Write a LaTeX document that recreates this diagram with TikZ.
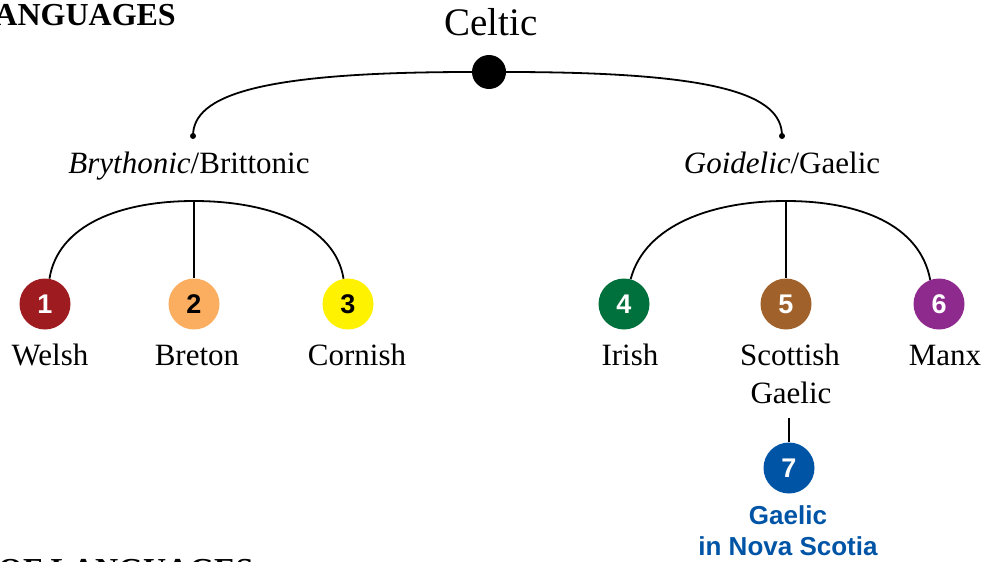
\documentclass[tikz,border=0pt]{standalone}
\usepackage{fontspec}
\setmainfont{Liberation Serif}
\newfontfamily\numfont{Liberation Sans}
\definecolor{cA}{HTML}{9E1B20}
\definecolor{cB}{HTML}{FBAE5F}
\definecolor{cC}{HTML}{FFF200}
\definecolor{cD}{HTML}{00703C}
\definecolor{cE}{HTML}{A0612A}
\definecolor{cF}{HTML}{8E2A8E}
\definecolor{cG}{HTML}{0054A6}
\begin{document}
\begin{tikzpicture}[x=1pt,y=-1pt,
  lbl/.style={font=\fontsize{31}{36}\selectfont, anchor=base, inner sep=0pt},
  head/.style={font=\bfseries\fontsize{32}{36}\selectfont, inner sep=0pt},
  num/.style={circle, minimum size=51pt, inner sep=0pt, text=white,
    font=\numfont\bfseries\fontsize{27}{30}\selectfont},
  blue/.style={font=\numfont\bfseries\fontsize{26}{30}\selectfont, text=cG, anchor=base, inner sep=0pt},
  conn/.style={line width=1.8pt},
  bigdot/.style={circle, fill=black, minimum size=34pt, inner sep=0pt},
  smalldot/.style={circle, fill=black, minimum size=6pt, inner sep=0pt}]
\useasboundingbox (0,0) rectangle (986,562);
% headings cut by the frame
\node[head, anchor=base east] (toptitle) at (176,25) {ANGUAGES};
\node[head, anchor=base west] (bottitle) at (-2,580) {OF LANGUAGES};
% root
\node[lbl, font=\fontsize{39}{44}\selectfont] (celtic) at (491,35) {Celtic};
\node[bigdot] (root) at (489,72) {};
% branches
\node[smalldot] (bd) at (193,136) {};
\node[smalldot] (gd) at (782,136) {};
\node[lbl] (bry) at (189,173) {\textit{Brythonic}/Brittonic};
\node[lbl] (goi) at (782,173) {\textit{Goidelic}/Gaelic};
\coordinate (bj) at (194,201);
\coordinate (gj) at (786,201);
% languages
\node[num, fill=cA] (n1) at (45,304) {1};
\node[num, fill=cB, text=black] (n2) at (194,304) {2};
\node[num, fill=cC, text=black] (n3) at (348,304) {3};
\node[num, fill=cD] (n4) at (624,304) {4};
\node[num, fill=cE] (n5) at (786,304) {5};
\node[num, fill=cF] (n6) at (939,304) {6};
\node[num, fill=cG] (n7) at (789,468) {7};
\node[lbl] (l1) at (50,365) {Welsh};
\node[lbl] (l2) at (197,365) {Breton};
\node[lbl] (l3) at (357,365) {Cornish};
\node[lbl] (l4) at (630,365) {Irish};
\node[lbl] (l5) at (790,365) {Scottish};
\node[lbl] (l5b) at (791,403) {Gaelic};
\node[lbl] (l6) at (945,365) {Manx};
\node[blue] (l7) at (788,524) {Gaelic};
\node[blue] (l7b) at (788,555) {in Nova Scotia};
\coordinate (sgb) at (789,418);
% connectors
\draw[conn] (root.center) -- (root.west) .. controls (260,72) and (193,95) .. (bd.center);
\draw[conn] (root.center) -- (root.east) .. controls (720,72) and (782,95) .. (gd.center);
\draw[conn] (n1.80) .. controls (58,225) and (120,201) .. (bj)
  .. controls (268,201) and (335,225) .. (n3.100);
\draw[conn] (bj) -- (n2.north);
\draw[conn] (n4.75) .. controls (645,225) and (712,201) .. (gj)
  .. controls (860,201) and (920,225) .. (n6.110);
\draw[conn] (gj) -- (n5.north);
\draw[conn] (sgb) -- (n7.north);
\end{tikzpicture}
\end{document}
